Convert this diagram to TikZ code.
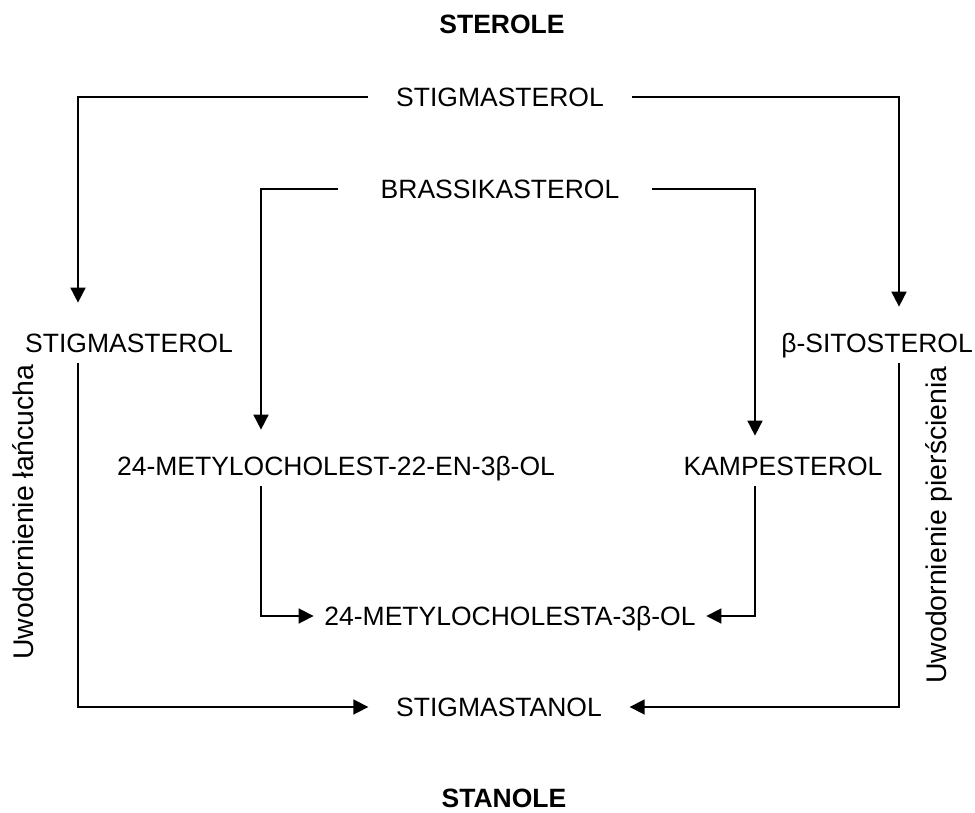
\documentclass[tikz,border=0pt]{standalone}
\usepackage{fontspec}
\setmainfont{Liberation Sans}
\usetikzlibrary{arrows.meta}

\begin{document}
\begin{tikzpicture}[x=0.5pt, y=-0.5pt, >={Triangle[width=7.5pt,length=7.5pt]}, line width=0.85pt,
  every node/.style={font=\fontsize{13.25}{16}\selectfont, text height=9.5pt, text depth=0pt, inner xsep=13.5pt, inner ysep=5pt},
  group/.style={font=\fontsize{13.25}{16}\selectfont\bfseries},
  side/.style={rotate=90, inner sep=0pt, font=\fontsize{14.2}{17}\selectfont, text height=10pt}]
  \useasboundingbox (0,0) rectangle (975,813);
  % Kolumny
  \coordinate (xL) at (78,0);
  \coordinate (xM) at (261,0);
  \coordinate (xK) at (755,0);
  \coordinate (xR) at (899,0);
  % Sterole
  \node[group] (sterole) at (502,24) {STEROLE};
  \node (stigT) at (500,97) {STIGMASTEROL};
  \node (brass) at (500,189) {BRASSIKASTEROL};
  \node (stigL) at (129,343) {STIGMASTEROL};
  \node (sito) at (877,343) {β-SITOSTEROL};
  \node (metA) at (336,466) {24-METYLOCHOLEST-22-EN-3β-OL};
  \node (kamp) at (783,466) {KAMPESTEROL};
  % Stanole
  \node[inner xsep=5pt] (metB) at (510,616) {24-METYLOCHOLESTA-3β-OL};
  \node (stan) at (499,707) {STIGMASTANOL};
  \node[group] (stanole) at (504,798) {STANOLE};
  % Opisy boczne
  \node[side] (chain) at (23.5,512) {Uwodornienie łańcucha};
  \node[side] (ring) at (936,525) {Uwodornienie pierścienia};
  % Strzalki z gory
  \draw[->, shorten >=10pt] (stigT.west) -| (stigL.north -| xL);
  \draw[->, shorten >=8pt] (stigT.east) -| (sito.north -| xR);
  \draw[->, shorten <=7.5pt, shorten >=8pt] (brass.west) -| (metA.north -| xM);
  \draw[->, shorten <=2.5pt, shorten >=5pt] (brass.east) -| (kamp.north -| xK);
  % Strzalki w dol
  \draw[->] (metA.south -| xM) |- (metB.west);
  \draw[->] (kamp.south -| xK) |- (metB.east);
  \draw[->] (stigL.south -| xL) |- (stan.west);
  \draw[->] (sito.south -| xR) |- (stan.east);
\end{tikzpicture}
\end{document}
